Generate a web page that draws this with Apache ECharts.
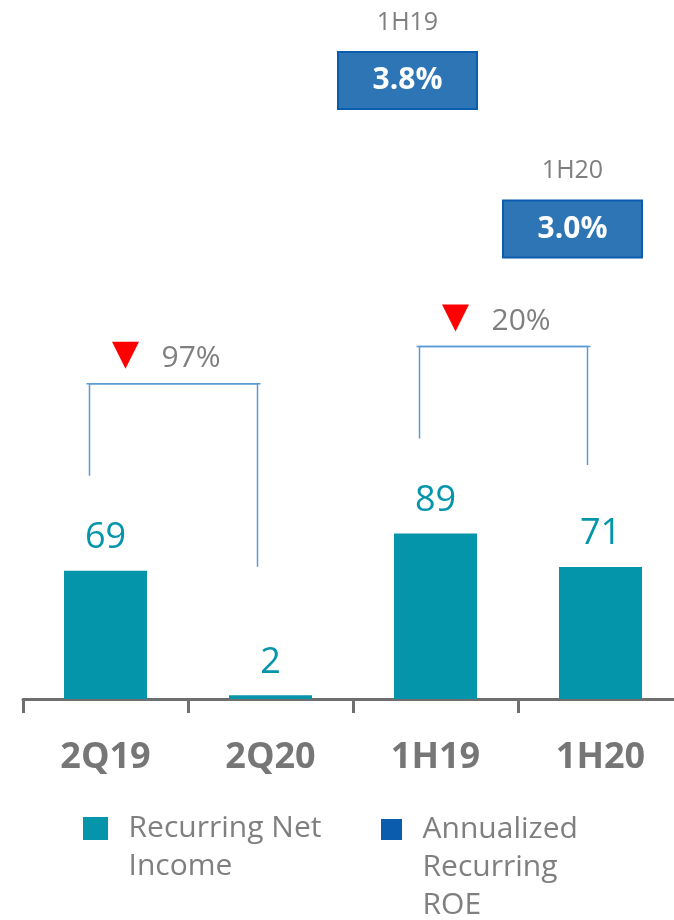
<!DOCTYPE html>
<html>
<head>
<meta charset="utf-8">
<script src="https://cdn.jsdelivr.net/npm/echarts@6/dist/echarts.min.js"></script>
<style>
  html, body { margin: 0; padding: 0; background: #fff; }
  #chart { width: 674px; height: 920px; }
</style>
</head>
<body>
<div id="chart"></div>
<script>
// 数据
const categories = ['2Q19', '2Q20', '1H19', '1H20'];
const netIncome = [69, 2, 89, 71];
const roeCategories = ['1H19', '1H20'];
const roeValues = [3.8, 3.0];
const changePairs = [['2Q19', '2Q20'], ['1H19', '1H20']];
const changeLabels = ['97%', '20%'];

const FONT = '"Open Sans", "Noto Sans", sans-serif';
const TEAL = '#0595ab';
const GRAY = '#7f7f7f';

const chart = echarts.init(document.getElementById('chart'));

// 图例文字：首行与图标对齐（前面补空行），左侧补空格拉开间距
function legendText(lines) {
  const pad = [];
  for (let i = 1; i < lines.length; i++) pad.push(' ');
  return pad.concat(lines.map(l => '  ' + l)).join('\n');
}

// ROE 方框
function renderRoe(params, api) {
  const p = api.coord([api.value(0), api.value(1)]);
  const cx = p[0] - 28;
  const cy = p[1];
  const w = 139, h = 57;
  return {
    type: 'group',
    children: [
      {
        type: 'rect',
        shape: { x: cx - w / 2, y: cy - h / 2, width: w, height: h },
        style: { fill: '#2e75b6', stroke: '#0b5cad', lineWidth: 2 }
      },
      {
        type: 'text',
        style: {
          x: cx, y: cy, text: roeValues[params.dataIndex].toFixed(1) + '%',
          fill: '#fff', font: 'bold 30px ' + FONT, align: 'center', verticalAlign: 'middle'
        }
      },
      {
        type: 'text',
        style: {
          x: cx, y: cy - 58, text: roeCategories[params.dataIndex],
          fill: GRAY, font: '25px ' + FONT, align: 'center', verticalAlign: 'middle'
        }
      }
    ]
  };
}

// 变化括号
function renderBracket(params, api) {
  const i0 = api.value(0), i1 = api.value(1);
  const a = api.coord([i0, netIncome[i0]]);
  const b = api.coord([i1, netIncome[i1]]);
  const lx = a[0] - 16;
  const rx = b[0] - 13;
  const topY = Math.min(a[1], b[1]) - 187;
  const leftEnd = a[1] - 95;
  const rightEnd = Math.min(b[1] - 102, leftEnd + 91);
  const tx = lx + 36;
  const lineStyle = { stroke: '#5b9bd5', lineWidth: 1.5, fill: null };
  return {
    type: 'group',
    children: [
      { type: 'polyline', shape: { points: [[lx, leftEnd], [lx, topY], [rx, topY], [rx, rightEnd]] }, style: lineStyle },
      { type: 'line', shape: { x1: lx - 3, y1: topY, x2: rx + 3, y2: topY }, style: lineStyle },
      {
        type: 'polygon',
        shape: { points: [[tx - 13.5, topY - 42], [tx + 13.5, topY - 42], [tx, topY - 15]] },
        style: { fill: '#ff0000' }
      },
      {
        type: 'text',
        style: {
          x: tx + 36, y: topY - 25, text: changeLabels[params.dataIndex],
          fill: GRAY, font: '30px ' + FONT, align: 'left', verticalAlign: 'middle'
        }
      }
    ]
  };
}

const option = {
  animation: false,
  textStyle: { fontFamily: FONT },
  grid: { left: 23, width: 660, top: 30, bottom: 221, outerBoundsMode: 'none' },
  legend: [
    {
      left: 83, top: 771.5, padding: 0,
      itemWidth: 25, itemHeight: 23, itemGap: 0,
      icon: 'rect',
      textStyle: { fontSize: 30, color: GRAY, lineHeight: 38, fontFamily: FONT },
      formatter: () => legendText(['Recurring Net', 'Income']),
      data: ['Recurring Net Income']
    },
    {
      left: 381, top: 734.5, padding: 0,
      itemWidth: 21, itemHeight: 21, itemGap: 0,
      icon: 'rect',
      textStyle: { fontSize: 30, color: GRAY, lineHeight: 38, fontFamily: FONT },
      formatter: () => legendText(['Annualized', 'Recurring', 'ROE']),
      data: ['Annualized Recurring ROE']
    }
  ],
  xAxis: {
    type: 'category',
    data: categories,
    axisLine: { lineStyle: { color: '#6f6f6f', width: 3 } },
    axisTick: { show: true, length: 14, lineStyle: { color: '#6f6f6f', width: 3 } },
    axisLabel: { fontSize: 36, fontWeight: 'bold', color: '#767676', margin: 41, fontFamily: FONT }
  },
  yAxis: [
    { type: 'value', min: 0, max: 360, show: false },
    { type: 'value', min: 0.468, max: 4.072, show: false }
  ],
  series: [
    {
      name: 'Recurring Net Income',
      type: 'bar',
      data: netIncome,
      barWidth: 83,
      itemStyle: { color: TEAL },
      label: { show: true, position: 'top', distance: 15, fontSize: 36, color: TEAL, fontFamily: FONT }
    },
    {
      name: 'Annualized Recurring ROE',
      type: 'custom',
      yAxisIndex: 1,
      itemStyle: { color: '#0b5cad' },
      renderItem: renderRoe,
      data: roeCategories.map((c, i) => [categories.indexOf(c), roeValues[i]]),
      z: 5
    },
    {
      name: 'change',
      type: 'custom',
      renderItem: renderBracket,
      data: changePairs.map(p => [categories.indexOf(p[0]), categories.indexOf(p[1])]),
      z: 5
    }
  ]
};

chart.setOption(option);
</script>
</body>
</html>
